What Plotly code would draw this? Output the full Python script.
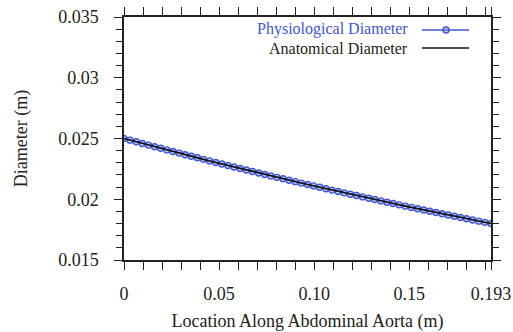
import plotly.graph_objects as go

# Location along abdominal aorta (m)
location = [0, 0.00322, 0.00643, 0.00965, 0.01287, 0.01608, 0.0193, 0.02252, 0.02573, 0.02895,
            0.03217, 0.03538, 0.0386, 0.04182, 0.04503, 0.04825, 0.05147, 0.05468, 0.0579, 0.06112,
            0.06433, 0.06755, 0.07077, 0.07398, 0.0772, 0.08042, 0.08363, 0.08685, 0.09007, 0.09328,
            0.0965, 0.09972, 0.10293, 0.10615, 0.10937, 0.11258, 0.1158, 0.11902, 0.12223, 0.12545,
            0.12867, 0.13188, 0.1351, 0.13832, 0.14153, 0.14475, 0.14797, 0.15118, 0.1544, 0.15762,
            0.16083, 0.16405, 0.16727, 0.17048, 0.1737, 0.17692, 0.18013, 0.18335, 0.18657, 0.18978,
            0.193]

# Physiological diameter (m)
physiological = [0.025, 0.024863, 0.024728, 0.024593, 0.024458, 0.024325, 0.024192, 0.02406, 0.023929, 0.023798,
                 0.023668, 0.023539, 0.02341, 0.023283, 0.023155, 0.023029, 0.022903, 0.022778, 0.022654, 0.02253,
                 0.022407, 0.022285, 0.022163, 0.022042, 0.021922, 0.021802, 0.021683, 0.021565, 0.021447, 0.02133,
                 0.021213, 0.021098, 0.020982, 0.020868, 0.020754, 0.020641, 0.020528, 0.020416, 0.020304, 0.020193,
                 0.020083, 0.019974, 0.019864, 0.019756, 0.019648, 0.019541, 0.019434, 0.019328, 0.019223, 0.019118,
                 0.019013, 0.018909, 0.018806, 0.018703, 0.018601, 0.0185, 0.018399, 0.018298, 0.018198, 0.018099,
                 0.018]

# Anatomical diameter (m)
anatomical = list(physiological)

x_tickvals = [0, 0.05, 0.10, 0.15, 0.193]
x_ticktext = ["0", "0.05", "0.10", "0.15", "0.193"]
y_tickvals = [0.015, 0.02, 0.025, 0.03, 0.035]
y_ticktext = ["0.015", "0.02", "0.025", "0.03", "0.035"]

series_names = ["Physiological Diameter", "Anatomical Diameter"]

BLUE = "#4257cf"
DARK = "#222222"
FONT = "Liberation Serif"

fig = go.Figure()
fig.add_trace(go.Scatter(
    x=location, y=physiological, name=series_names[0], mode="lines+markers",
    line=dict(color=BLUE, width=1.5),
    marker=dict(symbol="circle", size=6, color="rgba(120,140,230,0.45)", line=dict(width=1.4, color=BLUE)),
    showlegend=False))
fig.add_trace(go.Scatter(
    x=location, y=anatomical, name=series_names[1], mode="lines",
    line=dict(color="#111111", width=1.6), showlegend=False))

axis_common = dict(
    showline=True, linecolor=DARK, linewidth=1.5, mirror="ticks",
    ticks="outside", ticklen=8, tickwidth=1.3, tickcolor=DARK,
    showgrid=False, zeroline=False, automargin=False,
    tickfont=dict(family=FONT, size=18, color="#222"),
)

fig.update_xaxes(
    range=[0, 0.193], tickmode="array", tickvals=x_tickvals, ticktext=x_ticktext,
    minor=dict(tickmode="linear", tick0=0, dtick=0.01, ticks="outside", ticklen=8, tickwidth=1.3, tickcolor=DARK),
    ticklabelstandoff=9,
    title=dict(text="Location Along Abdominal Aorta (m)", font=dict(family=FONT, size=18, color="#222"), standoff=18),
    **axis_common)
fig.update_yaxes(
    range=[0.015, 0.035], tickmode="array", tickvals=y_tickvals, ticktext=y_ticktext,
    minor=dict(tickmode="linear", tick0=0.015, dtick=0.001, ticks="outside", ticklen=6, tickwidth=1.3, tickcolor=DARK),
    ticklabelstandoff=12,
    title=dict(text="Diameter (m)", font=dict(family=FONT, size=18, color="#222"), standoff=26),
    **axis_common)

# legend drawn as text + sample symbols at the top right
L, R, T, B = 124, 22, 17, 72
W, H = 513 - L - R, 332 - T - B

def px_x(p):
    return (p - L) / W

def px_y(p):
    return (332 - B - p) / H

ann = [
    dict(text=series_names[0], color=BLUE, y=29),
    dict(text=series_names[1], color="#222", y=49),
]
for a in ann:
    fig.add_annotation(x=px_x(409), y=px_y(a["y"]), xref="paper", yref="paper",
                       text=a["text"], showarrow=False, xanchor="right", yanchor="middle",
                       borderpad=0, font=dict(family=FONT, size=16, color=a["color"]))

fig.add_shape(type="line", xref="paper", yref="paper",
              x0=px_x(422), x1=px_x(469), y0=px_y(30), y1=px_y(30),
              line=dict(color=BLUE, width=1.5))
fig.add_shape(type="circle", xref="paper", yref="paper", xsizemode="pixel", ysizemode="pixel",
              xanchor=px_x(446), yanchor=px_y(30), x0=-3, x1=3, y0=-3, y1=3,
              line=dict(color=BLUE, width=1.5), fillcolor="rgba(120,140,230,0.45)")
fig.add_shape(type="line", xref="paper", yref="paper",
              x0=px_x(422), x1=px_x(469), y0=px_y(48), y1=px_y(48),
              line=dict(color="#111", width=1.5))

fig.update_layout(
    width=513, height=332,
    margin=dict(l=L, r=R, t=T, b=B),
    paper_bgcolor="white", plot_bgcolor="white",
    font=dict(family=FONT, size=18, color="#222"),
)

fig.write_html("out.html")
